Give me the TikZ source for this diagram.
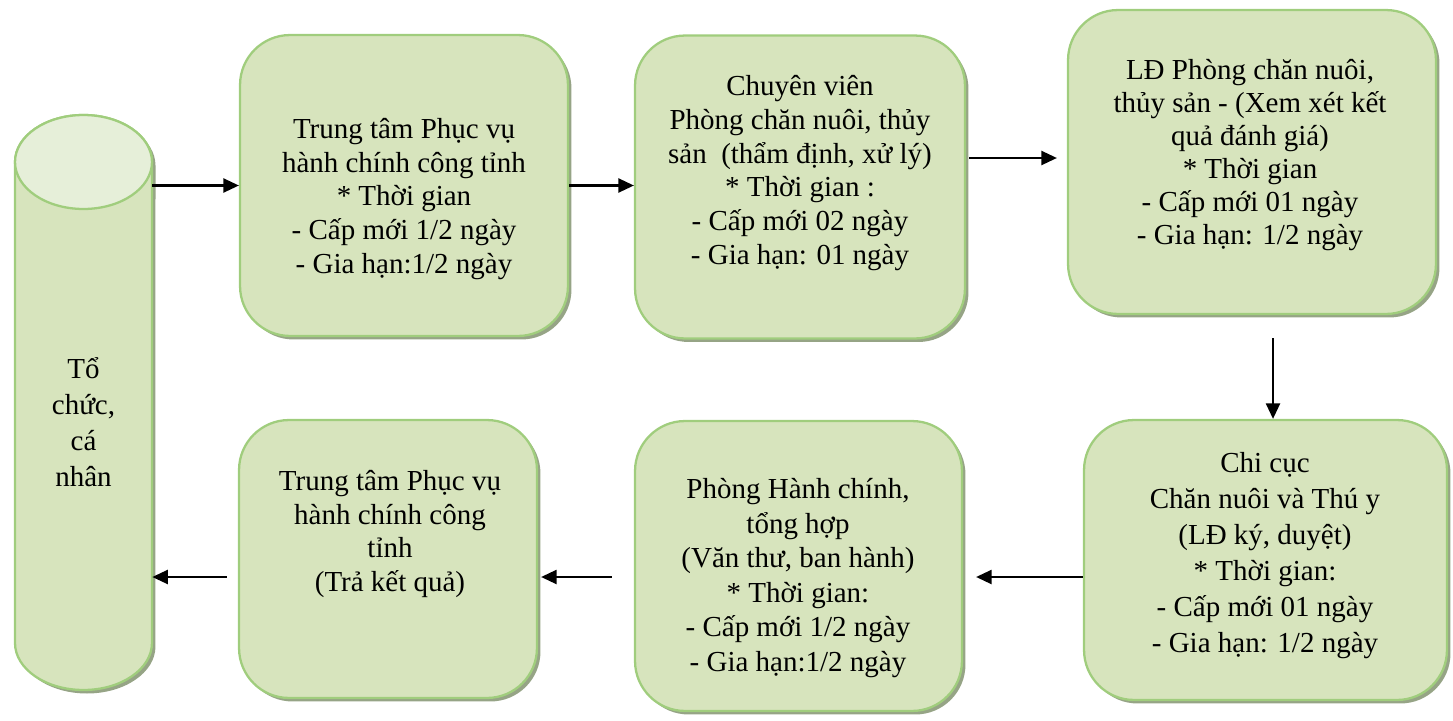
\documentclass[tikz,border=0pt]{standalone}
\usepackage{fontspec}
\setmainfont{Liberation Serif}
\usetikzlibrary{arrows.meta,shadows}

\definecolor{boxfill}{RGB}{215,228,189}
\definecolor{boxline}{RGB}{160,205,125}
\definecolor{boxshade}{RGB}{150,164,134}
\definecolor{cyltop}{RGB}{230,239,217}

\tikzset{
  stepbox/.style={draw=boxline, fill=boxfill, line width=1.3pt, rounded corners=1cm, inner sep=0pt,
    drop shadow={shadow xshift=0.07cm, shadow yshift=-0.07cm, fill=boxshade, opacity=1}},
  txt/.style={align=center, inner sep=0pt, font=\fontsize{16.5}{19.3}\selectfont},
  arr/.style={-{Triangle[length=0.31cm,width=0.28cm]}, line width=1.25pt},
}

\begin{document}
\begin{tikzpicture}[x=0.02cm, y=-0.02cm]
\useasboundingbox (0,0) rectangle (1453,720);

% Drawing cylinder To chuc, ca nhan
\path[fill=boxfill, draw=boxline, line width=1.3pt,
      drop shadow={shadow xshift=0.07cm, shadow yshift=-0.07cm, fill=boxshade, opacity=1}]
  (15,162) -- (15,643) arc[start angle=180, end angle=360, x radius=1.37cm, y radius=0.94cm]
  -- (152,162) arc[start angle=0, end angle=180, x radius=1.37cm, y radius=0.94cm] -- cycle;
\draw[fill=cyltop, draw=boxline, line width=1.3pt] (83.5,162) ellipse [x radius=1.37cm, y radius=0.94cm];
\node[minimum width=2.74cm, minimum height=11.5cm, inner sep=0pt] (cyl) at (83.5,402.5) {};
\node[txt, font=\fontsize{16.5}{20.5}\selectfont] (tcyl) at (83.5,422) {Tổ\\chức,\\cá\\nhân};

% Drawing boxes of the upper row
\node[stepbox, minimum width=6.56cm, minimum height=6.02cm] (box1) at (404,185.5) {};
\node[txt] (t1) at (404,199) {Trung tâm Phục vụ\\hành chính công tỉnh\\* Thời gian\\- Cấp mới 1/2 ngày\\- Gia hạn:1/2 ngày};

\node[stepbox, minimum width=6.6cm, minimum height=6.06cm] (box2) at (800,187) {};
\node[txt] (t2) at (800,173) {Chuyên viên\\Phòng chăn nuôi, thủy\\sản\ \ (thẩm định, xử lý)\\* Thời gian :\\- Cấp mới 02 ngày\\- Gia hạn: 01 ngày};

\node[stepbox, minimum width=7.36cm, minimum height=6.08cm] (box3) at (1252,162) {};
\node[txt, font=\fontsize{16.5}{18.8}\selectfont] (t3) at (1250,155) {LĐ Phòng chăn nuôi,\\thủy sản - (Xem xét kết\\quả đánh giá)\\* Thời gian\\- Cấp mới 01 ngày\\- Gia hạn: 1/2 ngày};

% Drawing boxes of the lower row
\node[stepbox, minimum width=7.26cm, minimum height=5.6cm] (box4) at (1265.5,560) {};
\node[txt, font=\fontsize{16.5}{20.5}\selectfont] (t4) at (1265,556) {Chi cục\\Chăn nuôi và Thú y\\(LĐ ký, duyệt)\\* Thời gian:\\- Cấp mới 01 ngày\\- Gia hạn: 1/2 ngày};

\node[stepbox, minimum width=6.54cm, minimum height=5.8cm] (box5) at (798.5,566) {};
\node[txt, font=\fontsize{16.5}{19.6}\selectfont] (t5) at (798,578) {Phòng Hành chính,\\tổng hợp\\(Văn thư, ban hành)\\* Thời gian:\\- Cấp mới 1/2 ngày\\- Gia hạn:1/2 ngày};

\node[stepbox, minimum width=5.96cm, minimum height=5.56cm] (box6) at (388,559) {};
\node[txt] (t6) at (390,534) {Trung tâm Phục vụ\\hành chính công\\tỉnh\\(Trả kết quả)};

% Drawing arrows
\coordinate (toprow) at (0,158);
\coordinate (row) at (0,577);
\coordinate (col) at (1273,0);
\draw[arr] (cyl.east |- box1.west) -- (box1.west);
\draw[arr] (box1.east) -- (box1.east -| box2.west);
\draw[arr, shorten <=0.06cm, shorten >=0.2cm] (box2.east |- toprow) -- (box3.west |- toprow);
\draw[arr, shorten <=0.46cm] (box3.south -| col) -- (box4.north -| col);
\draw[arr, shorten >=0.26cm] (box4.west |- row) -- (box5.east |- row);
\draw[arr, shorten <=0.44cm, shorten >=0.06cm] (box5.west |- row) -- (box6.east |- row);
\draw[arr, shorten <=0.22cm] (box6.west |- row) -- (cyl.east |- row);
\end{tikzpicture}
\end{document}
